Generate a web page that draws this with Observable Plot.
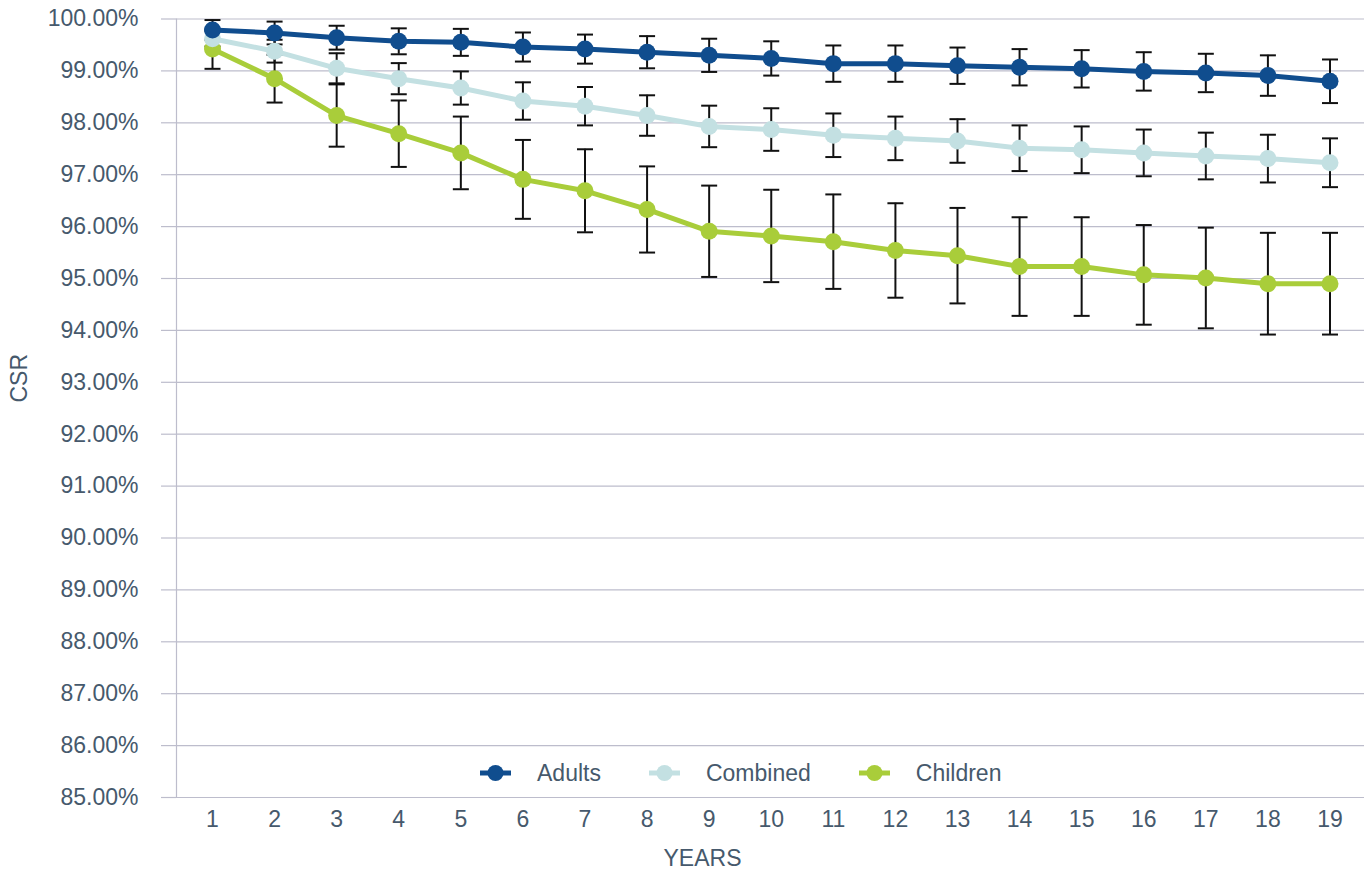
<!DOCTYPE html>
<html>
<head>
<meta charset="utf-8">
<script src="https://cdn.jsdelivr.net/npm/d3@7"></script>
<script src="https://cdn.jsdelivr.net/npm/@observablehq/plot@0.6"></script>
<style>
  body { margin: 0; background: #fff; font-family: "Liberation Sans", Arial, Helvetica, sans-serif; }
  #wrap { position: relative; width: 1364px; height: 872px; }
  #legend { position: absolute; left: 480px; top: 773px; transform: translateY(-50%);
            display: flex; align-items: center; gap: 48px; font-size: 23px; color: #46596c; line-height: 26px; }
  .item { display: flex; align-items: center; }
  .item svg { margin-right: 26px; display: block; }
</style>
</head>
<body>
<div id="wrap"><div id="chart"></div><div id="legend"></div></div>
<script>
const years = [1, 2, 3, 4, 5, 6, 7, 8, 9, 10, 11, 12, 13, 14, 15, 16, 17, 18, 19];
const seriesNames = ["Adults", "Combined", "Children"];
const seriesColors = ["#104d8e", "#c3e0e2", "#a9cd3a"];

const adults      = [99.79, 99.73, 99.64, 99.57, 99.55, 99.46, 99.42, 99.36, 99.30, 99.24, 99.14, 99.14, 99.10, 99.07, 99.04, 98.99, 98.96, 98.91, 98.80];
const adultsErr   = [0.19, 0.22, 0.23, 0.25, 0.26, 0.28, 0.28, 0.31, 0.32, 0.33, 0.35, 0.35, 0.35, 0.35, 0.36, 0.37, 0.37, 0.39, 0.42];
const combined    = [99.62, 99.38, 99.05, 98.85, 98.67, 98.42, 98.32, 98.14, 97.93, 97.87, 97.76, 97.70, 97.65, 97.51, 97.48, 97.42, 97.36, 97.31, 97.23];
const combinedErr = [0.15, 0.22, 0.29, 0.30, 0.32, 0.36, 0.37, 0.39, 0.40, 0.41, 0.42, 0.42, 0.42, 0.44, 0.45, 0.45, 0.45, 0.46, 0.47];
const children    = [99.42, 98.85, 98.14, 97.79, 97.42, 96.91, 96.69, 96.33, 95.91, 95.82, 95.71, 95.54, 95.44, 95.23, 95.23, 95.07, 95.01, 94.90, 94.90];
const childrenErr = [0.38, 0.46, 0.60, 0.64, 0.70, 0.76, 0.80, 0.83, 0.88, 0.89, 0.91, 0.91, 0.92, 0.95, 0.95, 0.96, 0.97, 0.98, 0.98];

const yTicks = [85, 86, 87, 88, 89, 90, 91, 92, 93, 94, 95, 96, 97, 98, 99, 100];
const xDomain = [0.42, 19.556];

const seriesValues = [adults, combined, children];
const seriesErrors = [adultsErr, combinedErr, childrenErr];

const rows = [];
seriesNames.forEach((name, s) => {
  years.forEach((year, i) => {
    const v = seriesValues[s][i], e = seriesErrors[s][i];
    rows.push({series: name, year, csr: v, lo: v - e, hi: v + e});
  });
});

const textColor = "#46596c";
const gridColor = "#bdbdcc";
const capSymbol = {
  draw(ctx, size) { const r = Math.sqrt(size / Math.PI); ctx.moveTo(-r, 0); ctx.lineTo(r, 0); }
};

const drawOrder = ["Children", "Combined", "Adults"];
const seriesMarks = drawOrder.flatMap(name => {
  const color = seriesColors[seriesNames.indexOf(name)];
  const data = rows.filter(d => d.series === name);
  return [
    Plot.line(data, {x: "year", y: "csr", stroke: color, strokeWidth: 5, strokeLinejoin: "round"}),
    Plot.dot(data, {x: "year", y: "csr", fill: color, r: 8.5})
  ];
});

const chart = Plot.plot({
  width: 1364,
  height: 872,
  marginTop: 18.5,
  marginBottom: 75,
  marginLeft: 176,
  marginRight: 0,
  style: {fontFamily: '"Liberation Sans", Arial, Helvetica, sans-serif', fontSize: "23px", color: textColor, background: "white"},
  x: {type: "linear", domain: xDomain, axis: null},
  y: {domain: [85, 100], axis: null},
  marks: [
    Plot.gridY(yTicks, {stroke: gridColor, strokeOpacity: 1, strokeWidth: 1.2}),
    Plot.axisY(yTicks, {tickSize: 15, tickPadding: 23, stroke: gridColor, strokeWidth: 1.2, fill: textColor,
      tickFormat: d => d.toFixed(2) + "%", label: null}),
    Plot.ruleX([xDomain[0]], {stroke: gridColor, strokeWidth: 1.2}),
    Plot.axisX(years, {tickSize: 0, tickPadding: 13, fill: textColor, tickFormat: d => String(d), label: null}),
    Plot.ruleX(rows, {x: "year", y1: "lo", y2: "hi", stroke: "#111", strokeWidth: 2}),
    Plot.dot(rows, {x: "year", y: "hi", symbol: capSymbol, r: 8, stroke: "#111", strokeWidth: 2, fill: "none"}),
    Plot.dot(rows, {x: "year", y: "lo", symbol: capSymbol, r: 8, stroke: "#111", strokeWidth: 2, fill: "none"}),
    ...seriesMarks,
    Plot.text(["YEARS"], {text: d => d, frameAnchor: "bottom", lineAnchor: "middle", textAnchor: "middle", dy: 61, dx: -68, fill: textColor, fontSize: 23}),
    Plot.text(["CSR"], {text: d => d, frameAnchor: "left", lineAnchor: "middle", textAnchor: "middle", rotate: -90, dx: -157, dy: -30, fill: textColor, fontSize: 23})
  ]
});
document.getElementById("chart").appendChild(chart);

const legend = document.getElementById("legend");
seriesNames.forEach((name, s) => {
  const item = document.createElement("div");
  item.className = "item";
  item.innerHTML = `<svg width="31" height="18"><line x1="0" x2="31" y1="9" y2="9" stroke="${seriesColors[s]}" stroke-width="5"/><circle cx="15.5" cy="9" r="8" fill="${seriesColors[s]}"/></svg><span>${name}</span>`;
  legend.appendChild(item);
});
</script>
</body>
</html>
